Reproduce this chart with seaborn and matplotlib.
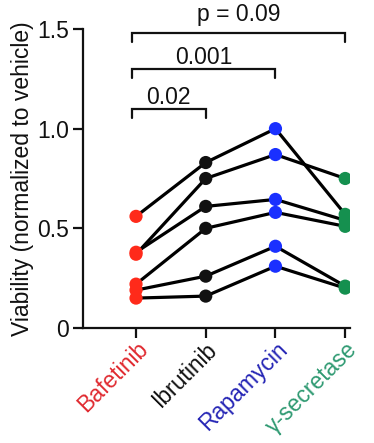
import matplotlib
matplotlib.use("Agg")
import matplotlib.pyplot as plt
import matplotlib.transforms as mtransforms
import seaborn as sns
import pandas as pd
import numpy as np

# ---- data ----
drugs = ["Bafetinib", "Ibrutinib", "Rapamycin", "\u03b3-secretase"]
subjects = ["S1", "S2", "S3", "S4", "S5", "S6"]
bafetinib = [0.56, 0.37, 0.38, 0.22, 0.19, 0.15]
ibrutinib = [0.83, 0.75, 0.61, 0.50, 0.26, 0.16]
rapamycin = [1.00, 0.87, 0.645, 0.58, 0.41, 0.31]
gamma_secretase = [0.57, 0.75, 0.54, 0.51, 0.21, 0.20]
yticks = [0, 0.5, 1.0, 1.5]
ytick_labels = ["0", "0.5", "1.0", "1.5"]
comparisons = [("0.02", 0, 1, 1.10), ("0.001", 0, 2, 1.30), ("p = 0.09", 0, 3, 1.48)]

dot_colors = ["#ff2a1a", "#111111", "#1a30ff", "#15904f"]
label_colors = ["#e02a30", "#111111", "#2525b5", "#2f9a72"]

rows = []
for d, vals in zip(drugs, [bafetinib, ibrutinib, rapamycin, gamma_secretase]):
    for s, v in zip(subjects, vals):
        rows.append({"drug": d, "subject": s, "value": v})
df = pd.DataFrame(rows)
df["pos"] = df["drug"].map({d: i for i, d in enumerate(drugs)})

sns.set_style("ticks")
plt.rcParams["font.family"] = ["Liberation Sans", "DejaVu Sans"]
plt.rcParams["text.color"] = "#111111"
plt.rcParams["axes.labelcolor"] = "#111111"
plt.rcParams["xtick.color"] = "#111111"
plt.rcParams["ytick.color"] = "#111111"
FS = 16.5

fig = plt.figure(figsize=(3.74, 4.43), dpi=100)
ax = fig.add_axes([0.222, 0.2596, 0.714, 0.675])

sns.lineplot(data=df, x="pos", y="value", units="subject", estimator=None,
             color="black", linewidth=2.3, ax=ax, zorder=2, sort=False)
sns.stripplot(data=df, x="drug", y="value", hue="drug", order=drugs,
              palette=dict(zip(drugs, dot_colors)), jitter=False, size=9.5,
              linewidth=0, ax=ax, zorder=3, legend=False, native_scale=False)

ax.set_xlim(-0.76, 3.07)
ax.set_ylim(0, 1.5)
ax.set_yticks(yticks)
ax.set_yticklabels(ytick_labels, fontsize=FS)
ax.set_xticks(range(len(drugs)))
ax.set_xticklabels(drugs, fontsize=FS, rotation=45, ha="right", va="top",
                   rotation_mode="anchor")
offset = mtransforms.ScaledTranslation(14 / 100, 0, fig.dpi_scale_trans)
for lbl, c in zip(ax.get_xticklabels(), label_colors):
    lbl.set_color(c)
    lbl.set_transform(lbl.get_transform() + offset)
ax.set_xlabel("")
ax.set_ylabel("Viability (normalized to vehicle)", fontsize=FS, labelpad=2)

for side in ["top", "right"]:
    ax.spines[side].set_visible(False)
for side in ["left", "bottom"]:
    ax.spines[side].set_linewidth(1.6)
    ax.spines[side].set_color("#111111")
ax.tick_params(axis="both", length=7, width=1.6, color="#111111", direction="out")
ax.tick_params(axis="y", pad=3)
ax.tick_params(axis="x", pad=0)

for text, i0, i1, yb in comparisons:
    x0 = i0 - 0.06
    ax.plot([x0, x0, i1, i1], [yb - 0.045, yb, yb, yb - 0.045], color="#111111",
            lw=1.6, clip_on=False, solid_joinstyle="miter")
    ty = yb + (0.06 if text.startswith("p") else 0.025)
    ax.text((x0 + i1) / 2, ty, text, ha="center", va="baseline", fontsize=FS,
            clip_on=False)

fig.savefig("out.png", dpi=100)
